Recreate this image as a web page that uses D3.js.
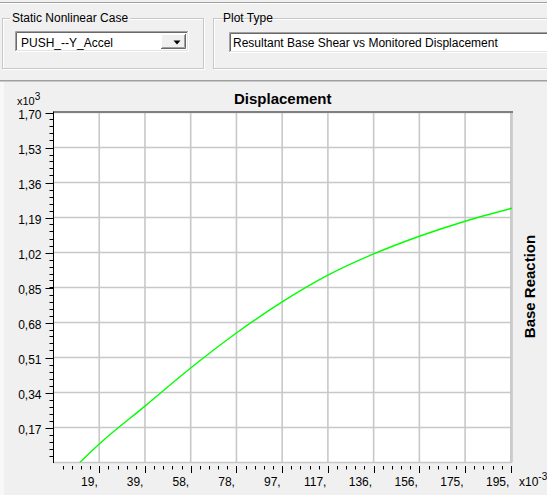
<!DOCTYPE html>
<html>
<head>
<meta charset="utf-8">
<script src="https://cdn.jsdelivr.net/npm/d3@7"></script>
<style>
  html, body { margin: 0; padding: 0; background: #f0f0f0; }
  svg { display: block; }
  text { font-family: "Liberation Sans", Arial, sans-serif; }
</style>
</head>
<body>
<svg id="chart" width="547" height="495"></svg>
<script>
// ---- data ----
const displacement = [11.2, 19.5, 39, 58.5, 78, 97.5, 117, 136.5, 156, 175.5, 195.5];
const baseReaction = [0, 0.090, 0.274, 0.459, 0.629, 0.780, 0.910, 1.013, 1.099, 1.172, 1.235];
const xTickValues = [19.5, 39, 58.5, 78, 97.5, 117, 136.5, 156, 175.5, 195];
const xTickLabels = ["19,", "39,", "58,", "78,", "97,", "117,", "136,", "156,", "175,", "195,"];
const yTickValues = [0.17, 0.34, 0.51, 0.68, 0.85, 1.02, 1.19, 1.36, 1.53, 1.70];
const yTickLabels = ["0,17", "0,34", "0,51", "0,68", "0,85", "1,02", "1,19", "1,36", "1,53", "1,70"];
const caseName = "PUSH_--Y_Accel";
const plotTypeName = "Resultant Base Shear vs Monitored Displacement";

const svg = d3.select("#chart");
svg.append("rect").attr("width", 547).attr("height", 495).attr("fill", "#f0f0f0");

// ---- top UI ----
svg.append("line").attr("x1", 0).attr("x2", 547).attr("y1", 2.5).attr("y2", 2.5).attr("stroke", "#a0a0a0");
svg.append("line").attr("x1", 0).attr("x2", 547).attr("y1", 3.5).attr("y2", 3.5).attr("stroke", "#ffffff");

function groupBox(x, y, w, h, title, tx) {
  svg.append("rect").attr("x", x + 1).attr("y", y + 1).attr("width", w).attr("height", h)
    .attr("fill", "none").attr("stroke", "#ffffff");
  svg.append("rect").attr("x", x).attr("y", y).attr("width", w).attr("height", h)
    .attr("fill", "none").attr("stroke", "#c8c8c8");
  const t = svg.append("text").attr("x", tx).attr("y", 22).attr("font-size", 12).attr("fill", "#000").text(title);
  const bw = t.node().getComputedTextLength();
  svg.insert("rect", "text").attr("x", tx - 2).attr("y", 12).attr("width", bw + 4).attr("height", 12).attr("fill", "#f0f0f0");
}
groupBox(2.5, 18.5, 201, 50, "Static Nonlinear Case", 12);
groupBox(213.5, 18.5, 400, 50, "Plot Type", 223);

function sunkenBox(x, y, w, h) {
  svg.append("rect").attr("x", x).attr("y", y).attr("width", w).attr("height", h).attr("fill", "#ffffff");
  const g = svg.append("g").attr("fill", "none");
  g.append("path").attr("d", `M${x + 0.5},${y + h} V${y + 0.5} H${x + w}`).attr("stroke", "#a0a0a0");
  g.append("path").attr("d", `M${x + 1.5},${y + h - 1} V${y + 1.5} H${x + w - 1}`).attr("stroke", "#696969");
  g.append("path").attr("d", `M${x},${y + h - 0.5} H${x + w - 0.5} V${y}`).attr("stroke", "#ffffff");
  g.append("path").attr("d", `M${x + 1},${y + h - 1.5} H${x + w - 1.5} V${y + 1}`).attr("stroke", "#e3e3e3");
}
sunkenBox(15, 31, 174, 21);
svg.append("text").attr("x", 21).attr("y", 46.5).attr("font-size", 12).attr("fill", "#000").text(caseName);
// dropdown button
const bx = 161, by = 34, bw2 = 25, bh = 15;
svg.append("rect").attr("x", bx).attr("y", by).attr("width", bw2).attr("height", bh).attr("fill", "#f0f0f0");
svg.append("path").attr("d", `M${bx + 0.5},${by + bh} V${by + 0.5} H${bx + bw2}`).attr("stroke", "#ffffff").attr("fill", "none");
svg.append("path").attr("d", `M${bx},${by + bh - 0.5} H${bx + bw2 - 0.5} V${by}`).attr("stroke", "#696969").attr("fill", "none");
svg.append("path").attr("d", `M${bx + 1},${by + bh - 1.5} H${bx + bw2 - 1.5} V${by + 1}`).attr("stroke", "#a0a0a0").attr("fill", "none");
svg.append("path").attr("d", "M173.5,40.5 L180.5,40.5 L177,44.5 Z").attr("fill", "#000");

sunkenBox(229, 32, 340, 21);
svg.append("text").attr("x", 233).attr("y", 46.5).attr("font-size", 12).attr("fill", "#000").text(plotTypeName);

// chart panel separator
svg.append("line").attr("x1", 0).attr("x2", 547).attr("y1", 80.5).attr("y2", 80.5).attr("stroke", "#a0a0a0");
svg.append("line").attr("x1", 0).attr("x2", 547).attr("y1", 81.5).attr("y2", 81.5).attr("stroke", "#c8c8c8");
svg.append("rect").attr("x", 0).attr("y", 82).attr("width", 4).attr("height", 413).attr("fill", "#f8f8f8");

// ---- plot ----
const L = 53.5, R = 512, T = 112.5, B = 462.5;
const x = d3.scaleLinear().domain([0, 195.5]).range([L, R]);
const y = d3.scaleLinear().domain([0, 1.70]).range([B, T]);

svg.append("rect").attr("x", L).attr("y", T).attr("width", R - L).attr("height", B - T).attr("fill", "#ffffff");

// gridlines
const grid = svg.append("g").attr("stroke", "#c8c8c8").attr("stroke-width", 1.6);
xTickValues.forEach(v => grid.append("line").attr("x1", x(v)).attr("x2", x(v)).attr("y1", T).attr("y2", B));
yTickValues.forEach(v => grid.append("line").attr("x1", L).attr("x2", R).attr("y1", y(v)).attr("y2", y(v)));
grid.append("line").attr("x1", L).attr("x2", R).attr("y1", B).attr("y2", B);
grid.append("line").attr("x1", R).attr("x2", R).attr("y1", T).attr("y2", B);
svg.append("line").attr("x1", L).attr("x2", R + 1).attr("y1", T - 0.5).attr("y2", T - 0.5)
  .attr("stroke", "#808080").attr("stroke-width", 2);

// curve
svg.append("clipPath").attr("id", "clip").append("rect")
  .attr("x", L).attr("y", T).attr("width", R - L + 0.5).attr("height", B - T);
const pts = displacement.map((d, i) => [d, baseReaction[i]]);
svg.append("path").datum(pts)
  .attr("clip-path", "url(#clip)")
  .attr("fill", "none").attr("stroke", "#00ff00").attr("stroke-width", 1.4)
  .attr("d", d3.line().x(d => x(d[0])).y(d => y(d[1])).curve(d3.curveMonotoneX));

// y axis
svg.append("line").attr("x1", L).attr("x2", L).attr("y1", T - 1).attr("y2", B + 0.5).attr("stroke", "#000");
const yMinor = d3.range(1, 50).map(i => i * 0.034).filter(v => v <= 1.7 + 1e-9);
const yAx = svg.append("g").attr("stroke", "#000");
yMinor.forEach(v => yAx.append("line").attr("x1", L - 4).attr("x2", L).attr("y1", Math.round(y(v)) + 0.5).attr("y2", Math.round(y(v)) + 0.5));
yTickValues.forEach(v => yAx.append("line").attr("x1", L - 8).attr("x2", L).attr("y1", Math.round(y(v)) + 0.5).attr("y2", Math.round(y(v)) + 0.5));
yTickValues.forEach((v, i) => svg.append("text").attr("x", 41.5).attr("y", y(v) + 6.5)
  .attr("text-anchor", "end").attr("font-size", 12).attr("fill", "#000").text(yTickLabels[i]));
const yExp = svg.append("text").attr("x", 17).attr("y", 105).attr("font-size", 11).attr("fill", "#000");
yExp.append("tspan").text("x10");
yExp.append("tspan").attr("dy", -5).attr("font-size", 10).text("3");

// x axis ticks (below plot, offset)
const xMinor = d3.range(1, 51).map(i => i * 3.9).filter(v => v <= 195 + 1e-9);
const xAx = svg.append("g").attr("stroke", "#000");
xMinor.forEach(v => xAx.append("line").attr("x1", Math.round(x(v)) + 0.5).attr("x2", Math.round(x(v)) + 0.5).attr("y1", 466).attr("y2", 469.5));
xTickValues.forEach(v => xAx.append("line").attr("x1", Math.round(x(v)) + 0.5).attr("x2", Math.round(x(v)) + 0.5).attr("y1", 466).attr("y2", 473));
xTickValues.forEach((v, i) => svg.append("text").attr("x", x(v) - 1.5).attr("y", 486)
  .attr("text-anchor", "end").attr("font-size", 12).attr("fill", "#000").text(xTickLabels[i]));
const xExp = svg.append("text").attr("x", 519).attr("y", 486).attr("font-size", 12).attr("fill", "#000");
xExp.append("tspan").text("x10");
xExp.append("tspan").attr("dy", -6).attr("font-size", 10).text("-3");

// titles
svg.append("text").attr("x", (L + R) / 2).attr("y", 103.5).attr("text-anchor", "middle")
  .attr("font-size", 15).attr("font-weight", "bold").attr("fill", "#000").text("Displacement");
svg.append("text").attr("transform", `translate(535,${(T + B) / 2 - 1}) rotate(-90)`)
  .attr("text-anchor", "middle").attr("font-size", 15).attr("font-weight", "bold").attr("fill", "#000").text("Base Reaction");
</script>
</body>
</html>
